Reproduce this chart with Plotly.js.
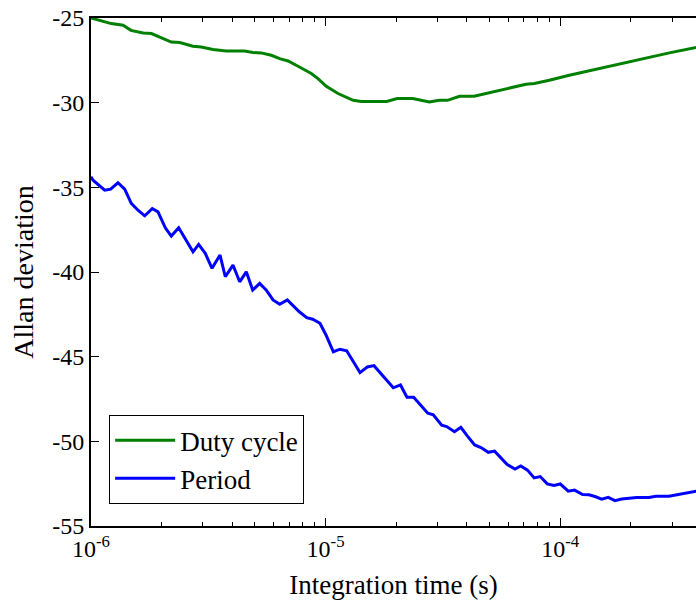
<!DOCTYPE html>
<html>
<head>
<meta charset="utf-8">
<script src="https://cdn.plot.ly/plotly-3.0.1.min.js"></script>
<style>
  html, body { margin: 0; padding: 0; background: #fff; }
  #chart { width: 696px; height: 605px; }
</style>
</head>
<body>
<div id="chart"></div>
<script>
// Integration time (s) and Allan deviation for the duty cycle series
const dutyTau = [1.00e-6, 1.22e-6, 1.37e-6, 1.48e-6, 1.67e-6, 1.81e-6, 2.20e-6, 2.39e-6, 2.72e-6, 2.95e-6,
  3.31e-6, 3.59e-6, 3.77e-6, 4.52e-6, 4.90e-6, 5.32e-6, 5.87e-6, 6.37e-6, 6.92e-6, 7.63e-6,
  8.69e-6, 9.28e-6, 1.007e-5, 1.13e-5, 1.31e-5, 1.42e-5, 1.82e-5, 2.02e-5, 2.35e-5, 2.77e-5,
  3.05e-5, 3.31e-5, 3.72e-5, 4.30e-5, 5.15e-5, 6.07e-5, 7.15e-5, 7.76e-5, 8.99e-5, 1.094e-4,
  1.52e-4, 2.10e-4, 2.92e-4, 3.80e-4];
const dutyDev = [-25.00, -25.33, -25.43, -25.73, -25.88, -25.92, -26.42, -26.45, -26.67, -26.71,
  -26.86, -26.89, -26.95, -26.95, -27.04, -27.06, -27.20, -27.40, -27.54, -27.85,
  -28.28, -28.58, -29.03, -29.46, -29.86, -29.93, -29.93, -29.76, -29.76, -29.96,
  -29.86, -29.86, -29.62, -29.62, -29.37, -29.11, -28.91, -28.87, -28.68, -28.38,
  -27.93, -27.50, -27.06, -26.74];

// Integration time (s) and Allan deviation for the period series
const periodTau = [1.00e-6, 1.02e-6, 1.144e-6, 1.213e-6, 1.303e-6, 1.392e-6, 1.485e-6, 1.586e-6, 1.694e-6, 1.825e-6,
  1.930e-6, 2.074e-6, 2.199e-6, 2.365e-6, 2.722e-6, 2.877e-6, 3.070e-6, 3.280e-6, 3.548e-6, 3.737e-6,
  4.030e-6, 4.303e-6, 4.592e-6, 4.890e-6, 5.237e-6, 5.588e-6, 5.969e-6, 6.375e-6, 6.868e-6, 7.727e-6,
  8.308e-6, 8.811e-6, 9.465e-6, 1.004e-5, 1.079e-5, 1.152e-5, 1.230e-5, 1.402e-5, 1.506e-5, 1.608e-5,
  1.944e-5, 2.086e-5, 2.223e-5, 2.374e-5, 2.727e-5, 2.878e-5, 3.125e-5, 3.282e-5, 3.543e-5, 3.771e-5,
  4.018e-5, 4.320e-5, 4.597e-5, 4.938e-5, 5.253e-5, 5.577e-5, 5.932e-5, 6.417e-5, 6.792e-5, 7.254e-5,
  7.745e-5, 8.222e-5, 8.810e-5, 9.410e-5, 1.0009e-4, 1.0828e-4, 1.151e-4, 1.247e-4, 1.327e-4, 1.407e-4,
  1.503e-4, 1.603e-4, 1.712e-4, 1.829e-4, 1.952e-4, 2.119e-4, 2.390e-4, 2.555e-4, 2.910e-4, 3.241e-4,
  3.461e-4, 3.800e-4];
const periodDev = [-34.38, -34.58, -35.17, -35.11, -34.73, -35.11, -35.95, -36.35, -36.68, -36.25,
  -36.45, -37.39, -37.88, -37.39, -38.81, -38.37, -38.90, -39.78, -39.00, -40.28,
  -39.59, -40.58, -39.99, -41.07, -40.67, -41.07, -41.65, -41.91, -41.65, -42.35,
  -42.70, -42.79, -43.03, -43.72, -44.71, -44.56, -44.65, -45.94, -45.61, -45.53,
  -46.84, -46.67, -47.40, -47.40, -48.34, -48.44, -49.05, -49.13, -49.43, -49.17,
  -49.68, -50.21, -50.37, -50.65, -50.58, -50.94, -51.36, -51.64, -51.45, -51.70,
  -52.16, -52.08, -52.51, -52.61, -52.52, -52.94, -52.88, -53.14, -53.16, -53.26,
  -53.41, -53.31, -53.50, -53.41, -53.38, -53.32, -53.31, -53.24, -53.24, -53.12,
  -53.06, -52.95];

// Axis ticks
const xTickVals = [1e-6, 1e-5, 1e-4];
const xTickText = ['10<sup>-6</sup>', '10<sup>-5</sup>', '10<sup>-4</sup>'];
const yTickVals = [-55, -50, -45, -40, -35, -30, -25];
const yTickText = ['-55', '-50', '-45', '-40', '-35', '-30', '-25'];
const decades = [1e-6, 1e-5, 1e-4];
const minorMult = [2, 3, 4, 5, 6, 7, 8, 9];
const xMinorVals = [];
decades.forEach(d => minorMult.forEach(m => xMinorVals.push(m * d)));

const FONT = '"Liberation Serif", "Times New Roman", serif';

const traces = [
  { x: dutyTau, y: dutyDev, type: 'scatter', mode: 'lines', name: 'Duty cycle',
    line: { color: 'rgb(0,128,0)', width: 3 } },
  { x: periodTau, y: periodDev, type: 'scatter', mode: 'lines', name: 'Period',
    line: { color: 'rgb(0,0,255)', width: 3 } }
];

const layout = {
  width: 696, height: 605,
  margin: { l: 91, r: 0, t: 18, b: 79 },
  paper_bgcolor: '#fff', plot_bgcolor: '#fff',
  font: { family: FONT, size: 24, color: '#000' },
  showlegend: true,
  legend: {
    x: 0.03, y: 0.043, xanchor: 'left', yanchor: 'bottom',
    bgcolor: '#fff', bordercolor: '#000', borderwidth: 1,
    font: { family: FONT, size: 27, color: '#000' },
    itemwidth: 60, tracegroupgap: 0, entrywidth: 200, entrywidthmode: 'pixels'
  },
  xaxis: {
    type: 'log', range: [-6, -3.421],
    tickmode: 'array', tickvals: xTickVals, ticktext: xTickText,
    ticks: 'inside', ticklen: 8, tickwidth: 1, tickcolor: '#000',
    minor: { tickmode: 'array', tickvals: xMinorVals, ticks: 'inside', ticklen: 4, tickwidth: 1, tickcolor: '#000', showgrid: false },
    showline: true, linecolor: '#000', linewidth: 2, mirror: 'ticks',
    showgrid: false, zeroline: false,
    tickfont: { family: FONT, size: 24, color: '#000' },
    title: { text: 'Integration time (s)', font: { family: FONT, size: 27, color: '#000' }, standoff: 14 }
  },
  yaxis: {
    range: [-55, -25],
    tickmode: 'array', tickvals: yTickVals, ticktext: yTickText,
    ticks: 'inside', ticklen: 8, tickwidth: 1, tickcolor: '#000',
    showline: true, linecolor: '#000', linewidth: 2, mirror: false,
    showgrid: false, zeroline: false,
    tickfont: { family: FONT, size: 24, color: '#000' },
    title: { text: 'Allan deviation', font: { family: FONT, size: 28, color: '#000' }, standoff: 10 }
  }
};

Plotly.newPlot('chart', traces, layout, { staticPlot: true, displayModeBar: false });
</script>
</body>
</html>
